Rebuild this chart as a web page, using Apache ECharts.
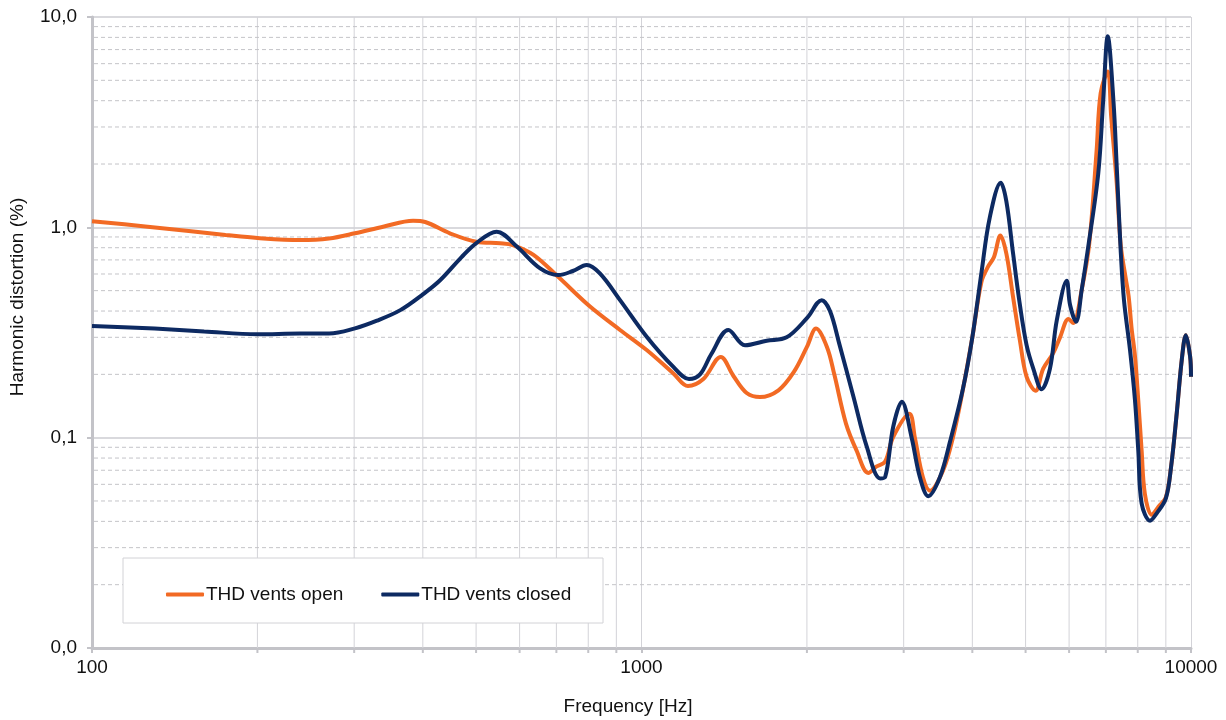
<!DOCTYPE html>
<html>
<head>
<meta charset="utf-8">
<script src="https://cdn.jsdelivr.net/npm/echarts@6/dist/echarts.min.js"></script>
<style>
html,body{margin:0;padding:0;background:#fff;}
#chart{width:1226px;height:720px;}
</style>
</head>
<body>
<div id="chart"></div>
<script>
// ---- data ----
const seriesNames = ['THD vents open', 'THD vents closed'];

const openFreq = [100,125,150,175,200,239,270,301,340,384,404,448,500,553,583,636,706,806,914,1022,1143,1215,1296,1394,1469,1554,1643,1775,1895,2000,2078,2175,2243,2355,2462,2587,2679,2776,2872,3073,3144,3251,3350,3540,3687,3846,4000,4155,4272,4378,4500,4613,4745,4883,5020,5213,5384,5617,5777,5985,6105,6329,6530,6734,6848,7055,7157,7326,7450,7600,7700,7798,7907,8017,8131,8243,8484,8724,9000,9200,9407,9620,9785,9963,10000];
const openThd  = [1.07,1.01,0.96,0.92,0.89,0.87,0.885,0.937,1.01,1.075,1.06,0.937,0.854,0.84,0.824,0.74,0.58,0.42,0.325,0.261,0.202,0.176,0.19,0.242,0.197,0.163,0.156,0.168,0.206,0.27,0.33,0.27,0.20,0.117,0.087,0.068,0.073,0.077,0.101,0.13,0.10,0.065,0.056,0.07,0.10,0.17,0.30,0.55,0.65,0.72,0.915,0.75,0.466,0.289,0.195,0.167,0.213,0.253,0.30,0.367,0.351,0.509,0.84,2.33,4.34,5.5,3.36,1.62,0.82,0.58,0.47,0.33,0.245,0.151,0.087,0.054,0.043,0.047,0.052,0.073,0.126,0.234,0.307,0.243,0.195];

const closedFreq = [100,130,160,200,239,270,301,330,364,400,430,470,500,545,593,654,706,750,795,840,914,1022,1143,1220,1278,1340,1439,1543,1690,1837,2000,2128,2203,2290,2430,2570,2717,2776,2872,2976,3102,3210,3326,3493,3642,3846,4000,4155,4302,4506,4613,4745,4883,5020,5164,5346,5538,5696,5940,6025,6177,6329,6502,6781,6922,7055,7224,7326,7447,7551,7745,7907,8017,8131,8424,8662,9000,9200,9407,9620,9785,9963,10000];
const closedThd  = [0.34,0.33,0.32,0.31,0.313,0.313,0.331,0.36,0.404,0.48,0.56,0.72,0.84,0.953,0.81,0.638,0.593,0.62,0.662,0.604,0.451,0.302,0.217,0.19,0.20,0.25,0.325,0.275,0.289,0.30,0.37,0.45,0.40,0.28,0.157,0.0906,0.064,0.065,0.113,0.148,0.10,0.065,0.0527,0.065,0.0955,0.171,0.30,0.606,1.11,1.63,1.33,0.75,0.427,0.276,0.213,0.17,0.213,0.359,0.557,0.427,0.356,0.509,0.81,1.81,4.03,8.1,4.03,1.94,0.78,0.451,0.261,0.151,0.0873,0.0487,0.0403,0.0437,0.0514,0.0728,0.126,0.234,0.307,0.243,0.195];

// minor grid positions
const xMinor = [200,300,400,500,600,700,800,900,2000,3000,4000,5000,6000,7000,8000,9000];
const yMinor = [0.02,0.03,0.04,0.05,0.06,0.07,0.08,0.09,0.2,0.3,0.4,0.5,0.6,0.7,0.8,0.9,2,3,4,5,6,7,8,9];

const ORANGE = '#F26A24';
const NAVY = '#0D2A62';
const AXIS = '#c3c3c8';
const FONT = 'Liberation Sans';

function zip(a, b) { return a.map((v, i) => [v, b[i]]); }

const chart = echarts.init(document.getElementById('chart'));
chart.setOption({
  animation: false,
  textStyle: { fontFamily: FONT },
  grid: { left: 92, right: 35, top: 17, bottom: 72, containLabel: false },
  xAxis: {
    type: 'log', logBase: 10, min: 100, max: 10000,
    axisLine: { show: true, lineStyle: { color: AXIS, width: 3 } },
    axisTick: { show: true, length: 5, lineStyle: { color: AXIS, width: 2 } },
    axisLabel: { color: '#111', fontSize: 19, fontFamily: FONT, margin: 10,
      formatter: v => String(Math.round(v)) },
    splitLine: { show: true, lineStyle: { color: '#d3d3d8', width: 1 } }
  },
  yAxis: {
    type: 'log', logBase: 10, min: 0.01, max: 10,
    axisLine: { show: true, lineStyle: { color: AXIS, width: 3 } },
    axisTick: { show: true, length: 5, lineStyle: { color: AXIS, width: 2 } },
    axisLabel: { color: '#111', fontSize: 19, fontFamily: FONT, margin: 15,
      formatter: v => v.toFixed(1).replace('.', ',') },
    splitLine: { show: true, lineStyle: { color: '#d9d9dd', width: 2 } }
  },
  legend: {
    data: seriesNames.map(n => ({ name: n, icon: 'roundRect' })),
    left: 161, top: 580,
    itemWidth: 38, itemHeight: 4, itemGap: 38,
    z: 6,
    textStyle: { fontSize: 19, color: '#111', fontFamily: FONT, padding: [0, 0, 0, -3] },
    selectedMode: false
  },
  graphic: [
    { type: 'rect', z: 5, shape: { x: 123, y: 558, width: 480, height: 65 },
      style: { fill: '#fff', stroke: '#d2d2d6', lineWidth: 1 } },
    { type: 'text', z: 5, x: 18, y: 297, rotation: Math.PI / 2,
      style: { text: 'Harmonic distortion (%)', fill: '#111', font: '19px "Liberation Sans"',
        align: 'center', verticalAlign: 'middle' } },
    { type: 'text', z: 5, x: 628, y: 707,
      style: { text: 'Frequency [Hz]', fill: '#111', font: '19px "Liberation Sans"',
        align: 'center', verticalAlign: 'middle' } }
  ],
  series: [
    {
      name: 'vgrid', type: 'custom', z: 1, silent: true, clip: false,
      encode: { x: 0, y: 1 },
      data: xMinor.map(f => [f, 1]),
      renderItem: function (params, api) {
        const cs = params.coordSys;
        const x = api.coord([api.value(0), 1])[0];
        return { type: 'group', children: [
          { type: 'line', shape: { x1: x, y1: cs.y, x2: x, y2: cs.y + cs.height },
            style: { stroke: '#d3d3d8', lineWidth: 1 } },
          { type: 'line', shape: { x1: x, y1: cs.y + cs.height, x2: x, y2: cs.y + cs.height + 5 },
            style: { stroke: AXIS, lineWidth: 2 } }
        ] };
      }
    },
    {
      name: 'hgrid', type: 'custom', z: 1, silent: true,
      encode: { x: 0, y: 1 },
      data: yMinor.map(v => [100, v]),
      renderItem: function (params, api) {
        const cs = params.coordSys;
        const y = api.coord([100, api.value(1)])[1];
        return { type: 'line', shape: { x1: cs.x + 2, y1: y, x2: cs.x + cs.width, y2: y },
          style: { stroke: '#c4c4c8', lineWidth: 1, lineDash: [4, 3] } };
      }
    },
    {
      name: seriesNames[0], type: 'line', z: 3,
      data: zip(openFreq, openThd),
      showSymbol: false, symbol: 'none', smooth: 0.35,
      lineStyle: { color: ORANGE, width: 4 },
      itemStyle: { color: ORANGE }
    },
    {
      name: seriesNames[1], type: 'line', z: 4,
      data: zip(closedFreq, closedThd),
      showSymbol: false, symbol: 'none', smooth: 0.35,
      lineStyle: { color: NAVY, width: 4 },
      itemStyle: { color: NAVY }
    }
  ]
});
</script>
</body>
</html>
